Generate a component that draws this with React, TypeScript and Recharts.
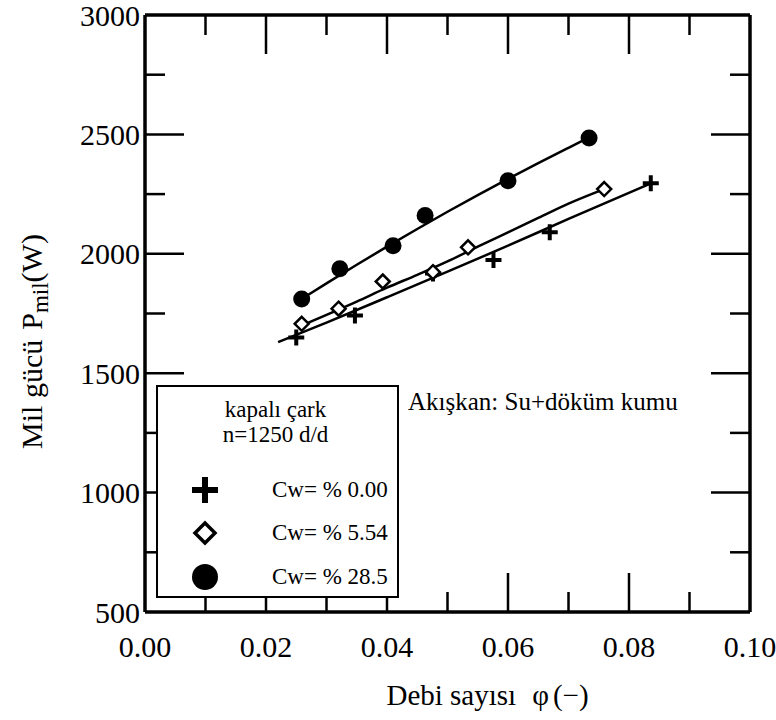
import React from 'react';
import { ComposedChart, Line, Scatter, XAxis, YAxis, Legend, Label } from 'recharts';

// axis ticks
const xTicks = [0, 0.02, 0.04, 0.06, 0.08, 0.1];
const xMajorInner = [0.02, 0.04, 0.06, 0.08];
const xMinorInner = [0.01, 0.03, 0.05, 0.07, 0.09];
const yTicks = [500, 1000, 1500, 2000, 2500, 3000];
const yMajorInner = [1000, 1500, 2000, 2500];
const yMinorInner = [750, 1250, 1750, 2250, 2750];

// measured points, Cw = % 0.00
const phi000 = [0.025, 0.0347, 0.0476, 0.0576, 0.0669, 0.0836];
const pow000 = [1650, 1742, 1918, 1974, 2090, 2295];
// Cw = % 5.54
const phi554 = [0.0259, 0.032, 0.0393, 0.0476, 0.0534, 0.0759];
const pow554 = [1707, 1770, 1884, 1923, 2027, 2271];
// Cw = % 28.5
const phi285 = [0.0259, 0.0322, 0.041, 0.0463, 0.06, 0.0734];
const pow285 = [1811, 1937, 2034, 2160, 2306, 2485];

// fitted curves
const fitPhi000 = [0.022, 0.03, 0.04, 0.05, 0.06, 0.07, 0.0836];
const fitPow000 = [1630, 1712, 1818, 1925, 2034, 2146, 2295];
const fitPhi554 = [0.0259, 0.035, 0.04, 0.045, 0.05, 0.055, 0.06, 0.065, 0.07, 0.0759];
const fitPow554 = [1700, 1800, 1858, 1912, 1968, 2030, 2090, 2150, 2210, 2271];
const fitPhi285 = [0.0259, 0.03, 0.035, 0.04, 0.045, 0.05, 0.055, 0.06, 0.065, 0.07, 0.0734];
const fitPow285 = [1811, 1876, 1954, 2030, 2104, 2176, 2246, 2314, 2380, 2444, 2487];

const seriesLabels = ['Cw= % 0.00', 'Cw= % 5.54', 'Cw= % 28.5'];
const legendTitle = ['kapalı çark', 'n=1250 d/d'];
const fluidNote = 'Akışkan: Su+döküm kumu';

const toPts = (xs: number[], ys: number[]) => xs.map((x, i) => ({ x, y: ys[i] }));

const FONT = '"Liberation Serif", "Times New Roman", serif';

const Cross = (p: any) => (
  <path d={`M${p.cx - 8},${p.cy}H${p.cx + 8}M${p.cx},${p.cy - 8}V${p.cy + 8}`} stroke="#000" strokeWidth={4} fill="none" />
);
const Diamond = (p: any) => (
  <path d={`M${p.cx},${p.cy - 7}L${p.cx + 7},${p.cy}L${p.cx},${p.cy + 7}L${p.cx - 7},${p.cy}Z`} stroke="#000" strokeWidth={2.5} fill="#fff" />
);
const Dot = (p: any) => <circle cx={p.cx} cy={p.cy} r={8.5} fill="#000" />;
const NoLabel = () => <g />;

const legendIcons = [
  <svg width={30} height={30} key="c"><path d="M2,15H28M15,2V28" stroke="#000" strokeWidth={6} /></svg>,
  <svg width={30} height={30} key="d"><path d="M15,5L25,15L15,25L5,15Z" stroke="#000" strokeWidth={3.5} fill="#fff" /></svg>,
  <svg width={30} height={30} key="o"><circle cx={15} cy={15} r={13} fill="#000" /></svg>,
];
const rowCenters = [103, 146, 190];

const LegendBox = () => (
  <div style={{ position: 'relative', width: 243, height: 213, boxSizing: 'border-box', border: '2px solid #000', background: '#fff', fontFamily: FONT, fontSize: 23, color: '#000' }}>
    {legendTitle.map((t, i) => (
      <div key={t} style={{ position: 'absolute', left: 0, width: 235, top: 10 + i * 25, textAlign: 'center', lineHeight: '26px' }}>{t}</div>
    ))}
    {seriesLabels.map((t, i) => (
      <React.Fragment key={t}>
        <div style={{ position: 'absolute', left: 32, top: rowCenters[i] - 15, width: 30, height: 30 }}>{legendIcons[i]}</div>
        <div style={{ position: 'absolute', left: 114, top: rowCenters[i] - 13, lineHeight: '26px', whiteSpace: 'nowrap' }}>{t}</div>
      </React.Fragment>
    ))}
  </div>
);

const YTitle = (props: any) => {
  const vb = props.viewBox;
  const cx = 31;
  const cy = vb.y + vb.height / 2 + 28;
  return (
    <text x={cx} y={cy} transform={`rotate(-90 ${cx} ${cy})`} textAnchor="middle" dominantBaseline="central" fontFamily={FONT} fontSize={30} fill="#000">
      Mil gücü<tspan dx={10}>P</tspan><tspan dy={9} fontSize={23}>mil</tspan><tspan dy={-9}>(W)</tspan>
    </text>
  );
};

const XTitle = (props: any) => {
  const vb = props.viewBox;
  const cx = vb.x + vb.width / 2 + 40;
  const cy = vb.y + 83;
  return (
    <text x={cx} y={cy} textAnchor="middle" dominantBaseline="central" fontFamily={FONT} fontSize={29} fill="#000">
      Debi sayısı<tspan dx={16}>φ</tspan><tspan dx={4}>(−)</tspan>
    </text>
  );
};

const tickStyle = { fontFamily: FONT, fontSize: 30, fill: '#000' };
const frame = { stroke: '#000', strokeWidth: 3.5 };
const tl = { stroke: '#000', strokeWidth: 2.5 };

export default function App() {
  return (
    <div style={{ position: 'absolute', left: 0, top: 0, width: 776, height: 720, background: '#fff' }}>
      <ComposedChart width={776} height={720} margin={{ top: 15, right: 26, bottom: 48, left: 65 }}>
        <XAxis type="number" dataKey="x" domain={[0, 0.1]} ticks={xTicks} tickFormatter={(v: number) => v.toFixed(2)}
          tick={tickStyle} tickLine={false} axisLine={false} tickSize={6} tickMargin={18} height={60} interval={0} allowDataOverflow>
          <Label content={XTitle} />
        </XAxis>
        <YAxis type="number" dataKey="y" domain={[500, 3000]} ticks={yTicks} tick={tickStyle}
          tickLine={false} axisLine={false} tickSize={0} tickMargin={5} width={80} interval={0} allowDataOverflow>
          <Label content={YTitle} />
        </YAxis>

        {/* inward ticks and frame */}
        <XAxis xAxisId="bMaj" dataKey="x" orientation="bottom" mirror height={1} type="number" domain={[0, 0.1]} ticks={xMajorInner} interval={0} tick={NoLabel} tickSize={39} tickLine={tl} axisLine={frame} stroke="#000" allowDataOverflow />
        <XAxis xAxisId="bMin" dataKey="x" orientation="bottom" mirror height={1} type="number" domain={[0, 0.1]} ticks={xMinorInner} interval={0} tick={NoLabel} tickSize={19} tickLine={tl} axisLine={false} stroke="#000" allowDataOverflow />
        <XAxis xAxisId="tMaj" dataKey="x" orientation="top" mirror height={1} type="number" domain={[0, 0.1]} ticks={xMajorInner} interval={0} tick={NoLabel} tickSize={39} tickLine={tl} axisLine={frame} stroke="#000" allowDataOverflow />
        <XAxis xAxisId="tMin" dataKey="x" orientation="top" mirror height={1} type="number" domain={[0, 0.1]} ticks={xMinorInner} interval={0} tick={NoLabel} tickSize={19} tickLine={tl} axisLine={false} stroke="#000" allowDataOverflow />
        <YAxis yAxisId="lMaj" dataKey="y" orientation="left" mirror width={1} type="number" domain={[500, 3000]} ticks={yMajorInner} interval={0} tick={NoLabel} tickSize={39} tickLine={tl} axisLine={frame} stroke="#000" allowDataOverflow />
        <YAxis yAxisId="lMin" dataKey="y" orientation="left" mirror width={1} type="number" domain={[500, 3000]} ticks={yMinorInner} interval={0} tick={NoLabel} tickSize={19} tickLine={tl} axisLine={false} stroke="#000" allowDataOverflow />
        <YAxis yAxisId="rMaj" dataKey="y" orientation="right" mirror width={1} type="number" domain={[500, 3000]} ticks={yMajorInner} interval={0} tick={NoLabel} tickSize={39} tickLine={tl} axisLine={frame} stroke="#000" allowDataOverflow />
        <YAxis yAxisId="rMin" dataKey="y" orientation="right" mirror width={1} type="number" domain={[500, 3000]} ticks={yMinorInner} interval={0} tick={NoLabel} tickSize={19} tickLine={tl} axisLine={false} stroke="#000" allowDataOverflow />

        <Line data={toPts(fitPhi000, fitPow000)} dataKey="y" type="monotone" stroke="#000" strokeWidth={2.5} dot={false} activeDot={false} legendType="none" isAnimationActive={false} />
        <Line data={toPts(fitPhi554, fitPow554)} dataKey="y" type="monotone" stroke="#000" strokeWidth={2.5} dot={false} activeDot={false} legendType="none" isAnimationActive={false} />
        <Line data={toPts(fitPhi285, fitPow285)} dataKey="y" type="monotone" stroke="#000" strokeWidth={2.5} dot={false} activeDot={false} legendType="none" isAnimationActive={false} />

        <Scatter name={seriesLabels[0]} data={toPts(phi000, pow000)} shape={Cross} isAnimationActive={false} />
        <Scatter name={seriesLabels[1]} data={toPts(phi554, pow554)} shape={Diamond} isAnimationActive={false} />
        <Scatter name={seriesLabels[2]} data={toPts(phi285, pow285)} shape={Dot} isAnimationActive={false} />

        <Legend layout="vertical" align="center" verticalAlign="middle" content={LegendBox}
          wrapperStyle={{ position: 'absolute', left: 156, top: 385, width: 243, height: 213 }} />
      </ComposedChart>
      <div style={{ position: 'absolute', left: 408, top: 389, fontFamily: FONT, fontSize: 25, lineHeight: '26px', whiteSpace: 'nowrap', color: '#000' }}>
        {fluidNote}
      </div>
    </div>
  );
}
